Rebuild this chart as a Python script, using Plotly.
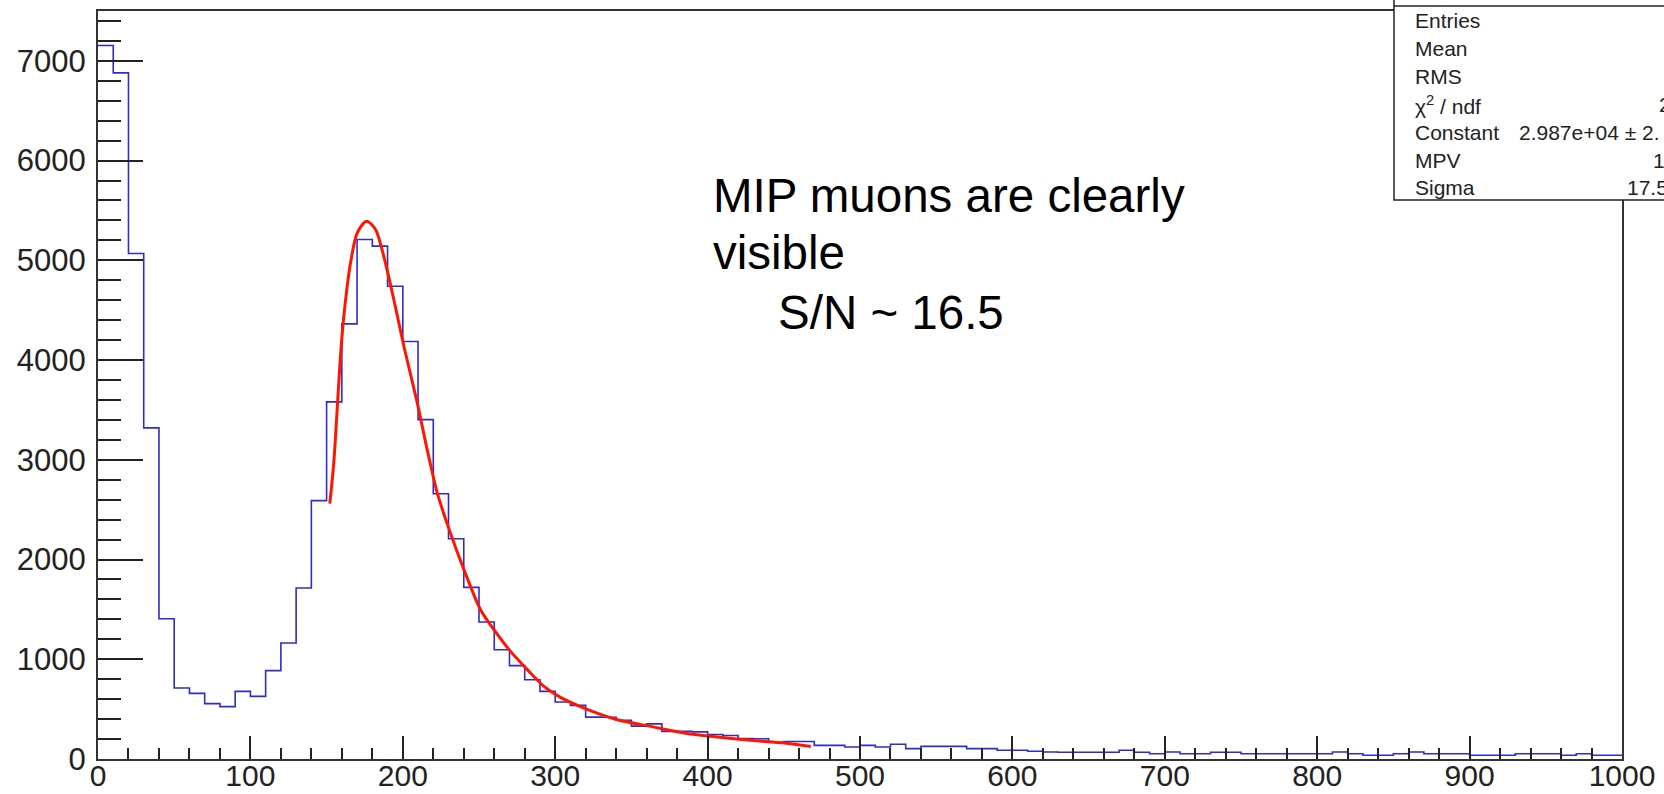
import plotly.graph_objects as go

# ---------------- data ----------------
bin_left = list(range(0, 1000, 10))   # 10-unit wide bins, 0..1000
counts = [
    7154, 6880, 5068, 3320, 1407, 712, 658, 555, 525, 678,
    628, 886, 1163, 1715, 2591, 3581, 4363, 5209, 5142, 4740,
    4186, 3403, 2660, 2208, 1721, 1374, 1096, 936, 795, 678,
    572, 538, 420, 418, 388, 330, 352, 277, 277, 272,
    245, 235, 205, 203, 168, 175, 175, 137, 137, 120,
    137, 120, 148, 104, 127, 127, 127, 104, 104, 87,
    87, 77, 70, 67, 67, 67, 67, 87, 67, 53,
    70, 53, 53, 67, 67, 53, 53, 53, 53, 53,
    53, 70, 53, 37, 37, 53, 70, 53, 53, 53,
    37, 37, 37, 53, 53, 53, 37, 53, 37, 37,
]

fit_x = [152.1, 154.7, 159.1, 161.3, 165.7, 170.1, 176.2, 182.1, 187.5, 194.1,
         200.7, 209.5, 216.0, 222.6, 230.0, 240.1, 251.0, 259.8, 270.7, 281.7,
         292.6, 303.5, 318.9, 340.8, 362.6, 384.5, 406.4, 428.3, 450.2, 467.7]
fit_y = [2561, 2969, 4038, 4439, 4975, 5276, 5393, 5309, 5041, 4607,
         4139, 3571, 3102, 2668, 2320, 1899, 1497, 1297, 1079, 896,
         728, 618, 511, 394, 327, 261, 221, 187, 160, 126]

stat_labels = ["Entries", "Mean", "RMS", "χ<sup>2</sup> / ndf", "Constant", "MPV", "Sigma"]
stat_values = ["", "", "", "2", "2.987e+04 ± 2.", "18", "17.5"]
stat_value_x = [0, 0, 0, 1657, 1517, 1651, 1625]

note_lines = ["MIP muons are clearly", "visible", "S/N ~ 16.5"]

# ---------------- layout geometry ----------------
W, H = 1664, 794
L, R, T, B = 98, 42, 11, 35
PW, PH = W - L - R, H - T - B


def px(x):
    return (x - L) / PW


def py(y):
    return (H - B - y) / PH


FONT = "Liberation Sans, Arial, Helvetica, sans-serif"

fig = go.Figure()

hx = bin_left + [1000]
hy = counts + [counts[-1]]
fig.add_trace(go.Scatter(
    x=hx, y=hy, mode="lines",
    line=dict(shape="hv", color="#2c2cd0", width=1.6),
    hoverinfo="skip", showlegend=False,
))
fig.add_trace(go.Scatter(
    x=fit_x, y=fit_y, mode="lines",
    line=dict(shape="spline", smoothing=0.8, color="#ff1500", width=3),
    hoverinfo="skip", showlegend=False,
))

fig.update_layout(
    width=W, height=H,
    margin=dict(l=L, r=R, t=T, b=B, pad=0, autoexpand=False),
    paper_bgcolor="white", plot_bgcolor="white",
    hovermode=False,
    showlegend=False,
    font=dict(family=FONT, color="#222"),
)

fig.update_xaxes(
    range=[0, 1000], showgrid=False, zeroline=False, automargin=False,
    showline=True, linecolor="#333", linewidth=2, mirror=True,
    ticks="inside", ticklen=23, tickwidth=1.5, tickcolor="#222",
    tickmode="linear", tick0=0, dtick=100,
    minor=dict(ticks="inside", ticklen=11, tickwidth=1.5, tickcolor="#222",
               dtick=20, showgrid=False),
    tickfont=dict(size=30, family=FONT, color="#222"),
    ticklabelstandoff=-11,
)
fig.update_yaxes(
    range=[0, 7500], showgrid=False, zeroline=False, automargin=False,
    showline=True, linecolor="#333", linewidth=2, mirror=True,
    ticks="inside", ticklen=45, tickwidth=1.5, tickcolor="#222",
    tickmode="linear", tick0=0, dtick=1000,
    minor=dict(ticks="inside", ticklen=23, tickwidth=1.5, tickcolor="#222",
               dtick=200, showgrid=False),
    tickfont=dict(size=31, family=FONT, color="#222"),
    ticklabelstandoff=4,
)

# stats box
box_x0, box_y0, box_y1 = 1394, -40, 200
fig.add_shape(type="rect", xref="paper", yref="paper",
              x0=px(box_x0), x1=px(W + 40), y0=py(box_y1), y1=py(box_y0),
              fillcolor="white", line=dict(color="#222", width=1.5), layer="above")
fig.add_shape(type="line", xref="paper", yref="paper",
              x0=px(box_x0), x1=px(W + 40), y0=py(6), y1=py(6),
              line=dict(color="#222", width=1.5), layer="above")

row_y = [20.7, 48.5, 76.3, 104.5, 132.5, 160.5, 187.5]
for lab, val, vx, ry in zip(stat_labels, stat_values, stat_value_x, row_y):
    fig.add_annotation(xref="paper", yref="paper", x=px(1413), y=py(ry),
                       xanchor="left", yanchor="middle", showarrow=False,
                       text=lab, font=dict(size=21, family=FONT, color="#222"))
    if val:
        fig.add_annotation(xref="paper", yref="paper", x=px(vx), y=py(ry),
                           xanchor="left", yanchor="middle", showarrow=False,
                           text=val, font=dict(size=21, family=FONT, color="#222"))

# note text
note_pos = [(711, 195), (711, 253), (776, 313)]
for txt, (nx, ny) in zip(note_lines, note_pos):
    fig.add_annotation(xref="paper", yref="paper", x=px(nx), y=py(ny),
                       xanchor="left", yanchor="middle", showarrow=False,
                       text=txt, font=dict(size=47.5, family=FONT, color="black"))

fig.write_html("out.html", include_plotlyjs=True, config={"displayModeBar": False})
